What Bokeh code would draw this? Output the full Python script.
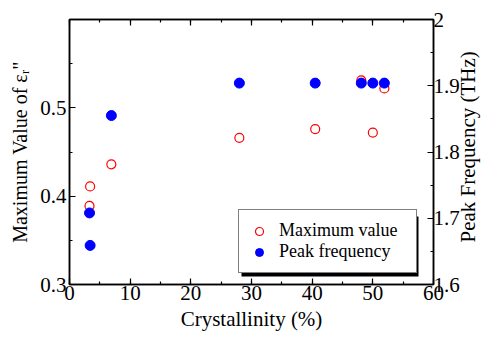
import math
from bokeh.plotting import figure
from bokeh.models import (Range1d, LinearAxis, SingleIntervalTicker, Legend, LegendItem,
                          CustomJSTickFormatter, BoxAnnotation)
from bokeh.embed import file_html
from bokeh.resources import INLINE

# ---- data ----
crystallinity_max = [3.3, 3.4, 6.9, 28.0, 40.5, 48.1, 50.0, 51.9]
maximum_value = [0.389, 0.411, 0.436, 0.466, 0.476, 0.531, 0.472, 0.522]
crystallinity_peak = [3.3, 3.4, 6.9, 28.0, 40.5, 48.1, 50.0, 51.9]
peak_frequency = [1.708, 1.659, 1.855, 1.904, 1.904, 1.904, 1.904, 1.904]

x_label = "Crystallinity (%)"
y_label = 'Maximum Value of \u03b5\u1d63"'
y2_label = "Peak Frequency (THz)"
legend_labels = ["Maximum value", "Peak frequency"]

FONT = "Liberation Serif"

p = figure(width=494, height=340, output_backend="svg", toolbar_location=None,
           x_range=Range1d(0, 60), y_range=Range1d(0.3, 0.6),
           min_border_left=69, min_border_right=58, min_border_top=19, min_border_bottom=56,
           background_fill_color="white", border_fill_color="white")
p.extra_y_ranges = {"freq": Range1d(1.6, 2.0)}
p.grid.visible = False
p.outline_line_color = "black"
p.outline_line_width = 1.5

r_max = p.scatter(crystallinity_max, maximum_value, marker="circle", size=9,
                  fill_color=None, line_color="#ff0000", line_width=1.2)
r_peak = p.scatter(crystallinity_peak, peak_frequency, marker="circle", size=10,
                   fill_color="#0000ff", line_color="#0000ff", y_range_name="freq")

def style_axis(ax, label_size="21px"):
    ax.axis_line_width = 1.5
    ax.axis_line_color = "black"
    ax.major_tick_in = 6
    ax.major_tick_out = 0
    ax.minor_tick_in = 3
    ax.minor_tick_out = 0
    ax.major_tick_line_width = 1.2
    ax.minor_tick_line_width = 1.2
    ax.major_label_text_font = FONT
    ax.major_label_text_font_size = "21px"
    ax.major_label_text_font_style = "normal"
    ax.major_label_text_color = "black"
    ax.axis_label_text_font = FONT
    ax.axis_label_text_font_size = label_size
    ax.axis_label_text_font_style = "normal"
    ax.axis_label_text_color = "black"

xaxis = p.xaxis[0]
xaxis.ticker = SingleIntervalTicker(interval=10, num_minor_ticks=2)
xaxis.axis_label = x_label
style_axis(xaxis)
xaxis.major_label_standoff = 1
xaxis.axis_label_standoff = 4

yaxis = p.yaxis[0]
yaxis.ticker = SingleIntervalTicker(interval=0.1, num_minor_ticks=2)
yaxis.axis_label = y_label
style_axis(yaxis, "20px")
yaxis.major_label_standoff = 3
yaxis.axis_label_standoff = 6

top = LinearAxis(ticker=SingleIntervalTicker(interval=10, num_minor_ticks=2),
                 formatter=CustomJSTickFormatter(code="return ''"))
style_axis(top)
top.major_label_standoff = 0
p.add_layout(top, "above")

right = LinearAxis(y_range_name="freq",
                   ticker=SingleIntervalTicker(interval=0.1, num_minor_ticks=2),
                   formatter=CustomJSTickFormatter(code="return String(Math.round(tick*10)/10)"))
style_axis(right)
right.major_label_standoff = 0
right.axis_label_standoff = 5
props = LinearAxis.properties()
if "axis_label_orientation" in props and "axis_label_align" in props:
    # reads bottom to top; label anchored at the foot of the axis, nudged up by padding
    right.axis_label = "\u00a0" * 8 + y2_label
    right.axis_label_orientation = math.pi / 2 - 1e-6
    try:
        right.axis_label_align = "start"
    except Exception:
        right.axis_label_align = "left"
else:
    right.axis_label = y2_label
p.add_layout(right, "right")

# legend shadow
shadow = BoxAnnotation(left=172, right=349, bottom=8, top=68,
                       left_units="screen", right_units="screen",
                       bottom_units="screen", top_units="screen",
                       fill_color="black", fill_alpha=1.0, line_color=None, level="overlay")
p.add_layout(shadow)

legend = Legend(items=[LegendItem(label=legend_labels[0], renderers=[r_max]),
                       LegendItem(label=legend_labels[1], renderers=[r_peak])],
                location=(169, 11), orientation="vertical",
                label_text_font=FONT, label_text_font_size="18px",
                label_text_color="black",
                border_line_color="black", border_line_width=1.5,
                background_fill_color="white", background_fill_alpha=1.0,
                padding=10, spacing=0, glyph_width=20, glyph_height=20,
                label_height=20, label_width=127, label_standoff=10, margin=0)
p.add_layout(legend, "center")

open("out.html", "w").write(file_html(p, INLINE))
